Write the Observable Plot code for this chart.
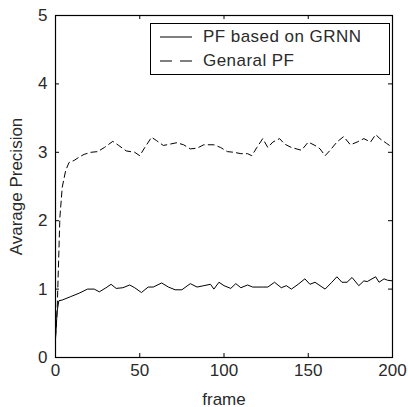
<!DOCTYPE html>
<html>
<head>
<meta charset="utf-8">
<script src="https://cdn.jsdelivr.net/npm/d3@7"></script>
<script src="https://cdn.jsdelivr.net/npm/@observablehq/plot@0.6"></script>
<style>
  html, body { margin: 0; padding: 0; background: #fff; }
  #wrap { position: relative; width: 408px; height: 407px; font-family: "Liberation Sans", Arial, sans-serif; }
  #legend { position: absolute; left: 150px; top: 23px; width: 240px; height: 52px; border: 1px solid #000; background: #fff; box-sizing: border-box; font-size: 17px; letter-spacing: 0.45px; color: #2a2a2a; }
  #legend .row { position: absolute; left: 0; height: 20px; display: flex; align-items: center; white-space: nowrap; }
  #legend svg { margin-left: 9px; margin-right: 11px; }
</style>
</head>
<body>
<div id="wrap"></div>
<script>
// GRNN-based particle filter (solid line)
const grnnFrames = [0,1,2,4,9,14,19,23,26,30,33,36,40,44,47,51,55,58,63,67,71,75,80,84,88,92,94,97,100,104,107,110,114,117,123,126,130,134,137,140,144,148,151,154,160,164,167,170,173,176,180,183,185,190,192,195,197,200];
const grnnValues = [0.27,0.68,0.83,0.84,0.89,0.94,1.0,1.0,0.96,1.02,1.07,1.01,1.02,1.06,1.02,0.95,1.03,1.03,1.09,1.03,0.99,0.99,1.08,1.03,1.05,1.07,1.0,1.1,1.05,1.01,1.08,1.02,1.06,1.03,1.03,1.03,1.1,1.02,1.05,1.0,1.07,1.15,1.07,1.1,1.0,1.1,1.18,1.1,1.1,1.17,1.05,1.12,1.11,1.18,1.1,1.15,1.13,1.12];

// General particle filter (dashed line)
const pfFrames = [0,1,2.6,4,6,8,11,14,17,21,25,29,34,37.5,42,47,50,53,57,60,64,68,72,76,80,84,88,94,98,102,106,110,114,116.5,119.5,123,126,129,133,136,140,146,150,154,157,160,163,167,171,175,179,183,187,190,192.5,196.5,200];
const pfValues = [0.3,0.7,2.05,2.49,2.73,2.85,2.88,2.93,2.97,3.0,3.01,3.07,3.16,3.1,3.02,3.0,2.95,3.07,3.22,3.17,3.1,3.12,3.14,3.11,3.05,3.06,3.11,3.11,3.07,3.01,3.0,2.98,2.98,2.95,3.07,3.2,3.07,3.15,3.2,3.12,3.07,3.03,3.15,3.1,3.05,2.95,3.03,3.15,3.23,3.11,3.15,3.2,3.15,3.26,3.2,3.13,3.07];

const xTicks = [0, 50, 100, 150, 200];
const yTicks = [0, 1, 2, 3, 4, 5];
const seriesNames = ["PF based on GRNN", "Genaral PF"];

const grnn = grnnFrames.map((f, i) => ({frame: f, value: grnnValues[i]}));
const pf = pfFrames.map((f, i) => ({frame: f, value: pfValues[i]}));

const W = 408, H = 407, mL = 55, mR = 16, mT = 15, mB = 50, TL = 4;
const innerW = W - mL - mR, innerH = H - mT - mB;

const chart = Plot.plot({
  width: W,
  height: H,
  marginLeft: mL,
  marginRight: mR,
  marginTop: mT,
  marginBottom: mB,
  style: {fontFamily: "'Liberation Sans', Arial, sans-serif", fontSize: "17px", color: "#2a2a2a", background: "#fff"},
  x: {domain: [0, 200]},
  y: {domain: [0, 5]},
  marks: [
    Plot.axisX(xTicks, {anchor: "bottom", tickSize: 0, tickPadding: 6, tickFormat: d3.format("d"), label: "frame", labelAnchor: "center", labelOffset: 47, labelArrow: "none"}),
    Plot.axisY(yTicks, {anchor: "left", tickSize: 0, tickPadding: 8, tickFormat: d3.format("d"), label: "Avarage Precision", labelAnchor: "center", labelOffset: 46, labelArrow: "none"}),
    // inward ticks on all four sides
    Plot.tickX(xTicks, {x: d => d, stroke: "#000", insetTop: innerH - TL}),
    Plot.tickX(xTicks, {x: d => d, stroke: "#000", insetBottom: innerH - TL}),
    Plot.tickY(yTicks, {y: d => d, stroke: "#000", insetRight: innerW - TL}),
    Plot.tickY(yTicks, {y: d => d, stroke: "#000", insetLeft: innerW - TL}),
    Plot.line(pf, {x: "frame", y: "value", stroke: "#000", strokeWidth: 1, strokeDasharray: "6,4"}),
    Plot.line(grnn, {x: "frame", y: "value", stroke: "#000", strokeWidth: 1}),
    Plot.frame({stroke: "#000", strokeWidth: 1.2})
  ]
});

const wrap = document.getElementById("wrap");
wrap.appendChild(chart);

const legend = document.createElement("div");
legend.id = "legend";
const dashes = [null, "12,8"];
seriesNames.forEach((name, i) => {
  const row = document.createElement("div");
  row.className = "row";
  row.style.top = (3 + i * 24) + "px";
  row.innerHTML = `<svg width="32" height="6"><line x1="0" y1="3" x2="32" y2="3" stroke="#000" stroke-width="1" ${dashes[i] ? `stroke-dasharray="${dashes[i]}"` : ""}/></svg><span>${name}</span>`;
  legend.appendChild(row);
});
wrap.appendChild(legend);
</script>
</body>
</html>
